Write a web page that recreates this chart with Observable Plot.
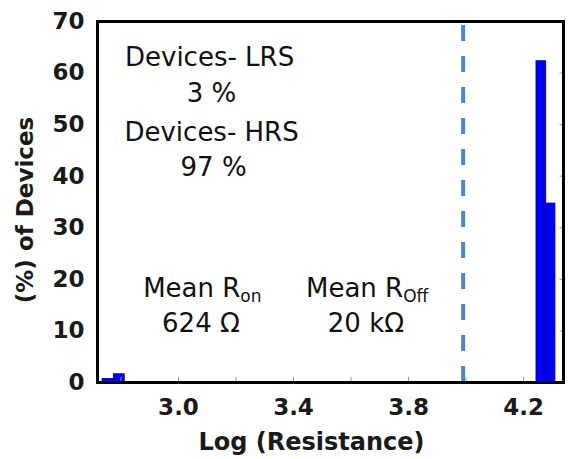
<!DOCTYPE html>
<html>
<head>
<meta charset="utf-8">
<script src="https://cdn.jsdelivr.net/npm/d3@7"></script>
<script src="https://cdn.jsdelivr.net/npm/@observablehq/plot@0.6"></script>
<style>
  html, body { margin: 0; padding: 0; background: #fff; }
  #chart { width: 573px; height: 459px; }
</style>
</head>
<body>
<div id="chart"></div>
<script>
// Histogram bins (log resistance) and percentage of devices
const binStart = [2.736, 2.775, 4.245, 4.279];
const binEnd   = [2.775, 2.813, 4.279, 4.311];
const percent  = [0.7, 1.6, 62.3, 34.7];

// Axis ticks
const yTicks = [0, 10, 20, 30, 40, 50, 60, 70];
const xTicks = [3.0, 3.4, 3.8, 4.2];
const xMinorTicks = [2.8, 3.0, 3.2, 3.4, 3.6, 3.8, 4.0, 4.2];

// LRS / HRS threshold (dashed line)
const threshold = 3.99;

// Annotations (text, anchored in data coordinates)
const annoText = ["Devices- LRS", "3 %", "Devices- HRS", "97 %", "Mean R_on", "624 Ω", "Mean R_Off", "20 kΩ"];
const annoX    = [3.108, 3.115, 3.115, 3.122, 3.083, 3.078, 3.656, 3.652];
const annoY    = [62.9, 56.0, 48.5, 41.7, 18.2, 11.5, 18.2, 11.5];

const bins = binStart.map((s, i) => ({x0: s, x1: binEnd[i], pct: percent[i]}));
const annos = annoText.map((t, i) => ({t, x: annoX[i], y: annoY[i]}));

const chart = Plot.plot({
  width: 573,
  height: 459,
  marginLeft: 97,
  marginRight: 10,
  marginTop: 21,
  marginBottom: 77,
  style: {fontFamily: "'DejaVu Sans', sans-serif", background: "#fff", color: "#111", overflow: "visible"},
  x: {domain: [2.7183, 4.339]},
  y: {domain: [0, 70]},
  marks: [
    Plot.rectY(bins, {x1: "x0", x2: "x1", y: "pct", fill: "#0000f2", stroke: "#00007a", strokeWidth: 0.8}),
    Plot.ruleX([threshold], {stroke: "#4a86d2", strokeWidth: 4, strokeDasharray: "16,15", strokeDashoffset: -4}),
    Plot.ruleX(xMinorTicks, {y1: 0, y2: 1.0, stroke: "#9a9a9a", strokeWidth: 1}),
    Plot.ruleY(yTicks.slice(1, -1), {x1: 4.327, x2: 4.339, stroke: "#9a9a9a", strokeWidth: 1}),
    Plot.text(annos, {x: "x", y: "y", text: "t", fontSize: 26, fill: "#111", lineAnchor: "middle", textAnchor: "middle"}),
    Plot.axisY(yTicks, {tickSize: 0, tickPadding: 13, fontSize: 23, fontWeight: "bold", label: null, fill: "#1a1a1a"}),
    Plot.axisX(xTicks, {tickSize: 0, tickPadding: 16, tickFormat: d => d.toFixed(1), fontSize: 23, fontWeight: "bold", label: null, fill: "#1a1a1a"}),
    Plot.text(["Log (Resistance)"], {frameAnchor: "bottom", dx: -19, dy: 60, fontSize: 24, fontWeight: "bold", fill: "#1a1a1a", lineAnchor: "middle", textAnchor: "middle"}),
    Plot.text(["(%) of Devices"], {frameAnchor: "left", rotate: -90, dx: -72, dy: 8, fontSize: 23, fontWeight: "bold", fill: "#1a1a1a", lineAnchor: "middle", textAnchor: "middle"}),
    Plot.frame({stroke: "#000", strokeWidth: 3})
  ]
});

// Subscripts for "Mean R_on" / "Mean R_Off"
d3.select(chart).selectAll("text").each(function() {
  const t = this.textContent;
  if (t.includes("_")) {
    const [main, sub] = t.split("_");
    const sel = d3.select(this);
    sel.text(main);
    sel.append("tspan").attr("font-size", 17).attr("dy", "0.3em").text(sub);
  }
});

document.getElementById("chart").appendChild(chart);
</script>
</body>
</html>
